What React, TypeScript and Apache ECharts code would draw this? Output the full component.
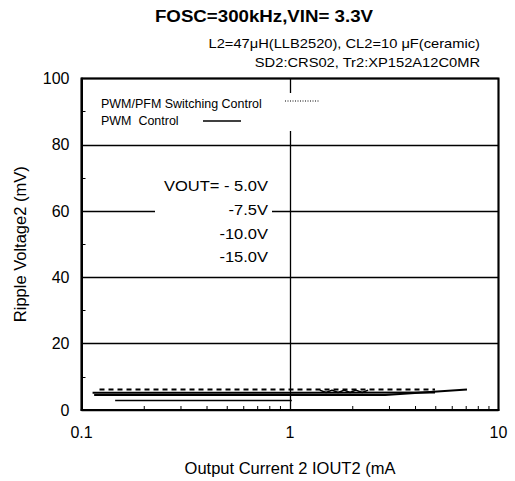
import React, { useEffect, useRef } from "react";
import * as echarts from "echarts";

// Minor tick positions on the log current axis (mA)
const xMinorTicks = [0.2, 0.3, 0.4, 0.5, 0.6, 0.7, 0.8, 0.9, 2, 3, 4, 5, 6, 7, 8, 9];

// PWM/PFM switching control (dashed / wavy)
const pfmDashCurrent = [0.122, 1.0, 4.96];
const pfmDashRipple = [6.2, 6.2, 6.2];
const pfmWaveCurrent = [1.39, 1.49, 1.59, 1.7, 1.82, 1.94, 2.07, 2.22, 2.37];
const pfmWaveRipple = [6.0, 5.3, 6.0, 5.3, 6.0, 5.3, 6.0, 5.3, 6.0];

// PWM control (solid)
const pwmACurrent = [0.113, 1.0, 4.96];
const pwmARipple = [5.2, 5.2, 5.3];
const pwmBCurrent = [0.115, 1.0, 2.86, 7.06];
const pwmBRipple = [4.5, 4.5, 4.5, 6.2];
const pwmCCurrent = [0.145, 1.02];
const pwmCRipple = [2.9, 2.9];

const yTicks = [0, 20, 40, 60, 80, 100];
const xTicks = [0.1, 1, 10];

const FONT = '"Liberation Sans", Arial, sans-serif';

const zip = (xs: number[], ys: number[]) => xs.map((x, i) => [x, ys[i]]);

export default function App() {
  const ref = useRef<HTMLDivElement>(null);

  useEffect(() => {
    if (!ref.current) return;
    const chart = echarts.init(ref.current, undefined, { renderer: "svg" });
    const option: any = {
      animation: false,
      backgroundColor: "#fff",
      grid: {
        left: 81.5,
        right: 16.5,
        top: 78.5,
        bottom: 70.5,
        show: true,
        borderColor: "#000",
        borderWidth: 2,
        backgroundColor: "transparent",
      },
      xAxis: {
        type: "log",
        logBase: 10,
        min: xTicks[0],
        max: xTicks[xTicks.length - 1],
        name: "Output Current 2 IOUT2 (mA",
        nameLocation: "middle",
        nameGap: 49,
        nameTextStyle: { fontFamily: FONT, fontSize: 16.5, color: "#000" },
        axisLine: { show: true, lineStyle: { color: "#000", width: 2 } },
        axisTick: { show: false },
        axisLabel: {
          fontFamily: FONT,
          fontSize: 16,
          color: "#000",
          margin: 14,
          formatter: (v: number) => (v < 1 ? String(v) : String(Math.round(v))),
        },
        splitLine: { show: true, lineStyle: { color: "#000", width: 1.3 } },
      },
      yAxis: {
        type: "value",
        min: yTicks[0],
        max: yTicks[yTicks.length - 1],
        interval: 20,
        name: "Ripple Voltage2 (mV)",
        nameLocation: "middle",
        nameGap: 53,
        nameTextStyle: { fontFamily: FONT, fontSize: 16.5, color: "#000" },
        axisLine: { show: true, lineStyle: { color: "#000", width: 2 } },
        axisTick: { show: false, inside: true },
        minorTick: { show: true, splitNumber: 2, length: 4, lineStyle: { color: "#000", width: 1 } },
        axisLabel: { fontFamily: FONT, fontSize: 16, color: "#000", margin: 12 },
        splitLine: { show: true, lineStyle: { color: "#000", width: 1.3 } },
      },
      series: [
        {
          type: "custom",
          name: "minorTicks",
          silent: true,
          data: xMinorTicks.map((v) => [v, 0]),
          encode: { x: 0, y: 1 },
          renderItem: (params: any, api: any) => {
            const p = api.coord([api.value(0), 0]);
            return {
              type: "line",
              shape: { x1: p[0], y1: p[1], x2: p[0], y2: p[1] - 4 },
              style: { stroke: "#000", lineWidth: 1 },
            };
          },
          z: 5,
        },
        {
          type: "line",
          name: "PWM/PFM dashed",
          data: zip(pfmDashCurrent, pfmDashRipple),
          showSymbol: false,
          lineStyle: { color: "#000", width: 2, type: [5, 4] },
        },
        {
          type: "line",
          name: "PWM/PFM wave",
          data: zip(pfmWaveCurrent, pfmWaveRipple),
          showSymbol: false,
          lineStyle: { color: "#000", width: 1.5 },
        },
        {
          type: "line",
          name: "PWM A",
          data: zip(pwmACurrent, pwmARipple),
          showSymbol: false,
          lineStyle: { color: "#000", width: 2 },
        },
        {
          type: "line",
          name: "PWM B",
          data: zip(pwmBCurrent, pwmBRipple),
          showSymbol: false,
          lineStyle: { color: "#000", width: 2 },
        },
        {
          type: "line",
          name: "PWM C",
          data: zip(pwmCCurrent, pwmCRipple),
          showSymbol: false,
          lineStyle: { color: "#000", width: 1.5 },
        },
      ],
      graphic: [
        {
          type: "text",
          x: 264,
          y: 16,
          z: 20,
          scaleX: 1.1,
          style: {
            text: "FOSC=300kHz,VIN= 3.3V",
            font: `bold 17px ${FONT}`,
            fill: "#000",
            textAlign: "center",
            textVerticalAlign: "middle",
          },
        },
        {
          type: "text",
          x: 480,
          y: 43,
          z: 20,
          scaleX: 1.13,
          style: {
            text: "L2=47μH(LLB2520), CL2=10 μF(ceramic)",
            font: `13px ${FONT}`,
            fill: "#000",
            textAlign: "right",
            textVerticalAlign: "middle",
          },
        },
        {
          type: "text",
          x: 480,
          y: 62,
          z: 20,
          scaleX: 1.13,
          style: {
            text: "SD2:CRS02, Tr2:XP152A12C0MR",
            font: `13px ${FONT}`,
            fill: "#000",
            textAlign: "right",
            textVerticalAlign: "middle",
          },
        },
        // legend box
        {
          type: "rect",
          z: 10,
          shape: { x: 95, y: 93, width: 230, height: 38 },
          style: { fill: "#fff" },
        },
        {
          type: "text",
          x: 101,
          y: 104,
          z: 20,
          scaleX: 1.04,
          style: {
            text: "PWM/PFM Switching Control",
            font: `12px ${FONT}`,
            fill: "#000",
            textVerticalAlign: "middle",
          },
        },
        {
          type: "text",
          x: 101,
          y: 121,
          z: 20,
          scaleX: 1.04,
          style: {
            text: "PWM  Control",
            font: `12px ${FONT}`,
            fill: "#000",
            textVerticalAlign: "middle",
          },
        },
        {
          type: "line",
          z: 20,
          shape: { x1: 285, y1: 101, x2: 320, y2: 101 },
          style: { stroke: "#000", lineWidth: 1, lineDash: [1, 1.5] },
        },
        {
          type: "line",
          z: 20,
          shape: { x1: 203, y1: 121, x2: 241, y2: 121 },
          style: { stroke: "#000", lineWidth: 1.3 },
        },
        // VOUT annotation box
        {
          type: "rect",
          z: 10,
          shape: { x: 155, y: 172, width: 117, height: 96 },
          style: { fill: "#fff" },
        },
        ...[
          ["VOUT= - 5.0V", 186],
          ["-7.5V", 210],
          ["-10.0V", 234],
          ["-15.0V", 257],
        ].map(([t, y]) => ({
          type: "text",
          x: 268,
          y: y as number,
          z: 20,
          scaleX: 1.1,
          style: {
            text: t as string,
            font: `15px ${FONT}`,
            fill: "#000",
            textAlign: "right",
            textVerticalAlign: "middle",
          },
        })),
      ],
    };
    chart.setOption(option);
    return () => chart.dispose();
  }, []);

  return (
    <div
      ref={ref}
      style={{ position: "fixed", left: 0, top: 0, width: 515, height: 481, background: "#fff" }}
    />
  );
}
